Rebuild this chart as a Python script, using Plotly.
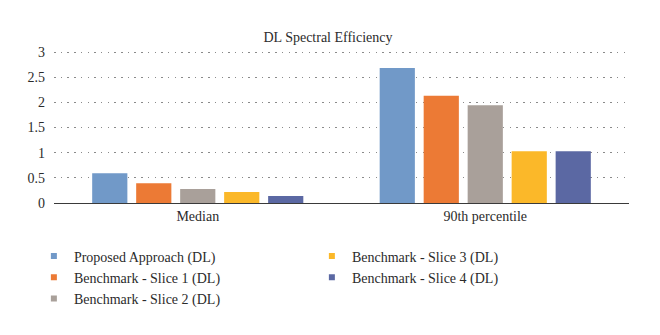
import plotly.graph_objects as go

categories = ["Median", "90th percentile"]
series_names = [
    "Proposed Approach (DL)",
    "Benchmark - Slice 1 (DL)",
    "Benchmark - Slice 2 (DL)",
    "Benchmark - Slice 3 (DL)",
    "Benchmark - Slice 4 (DL)",
]
proposed = [0.59, 2.68]
slice1 = [0.39, 2.13]
slice2 = [0.28, 1.94]
slice3 = [0.22, 1.03]
slice4 = [0.14, 1.03]
series_values = [proposed, slice1, slice2, slice3, slice4]
colors = ["#7199C8", "#EC7A35", "#A9A09A", "#FBB829", "#5B68A3"]
# legend laid out column-wise: left column first three, right column last two
legend_ranks = [1, 3, 5, 2, 4]
y_ticks = [0, 0.5, 1, 1.5, 2, 2.5, 3]
y_tick_labels = ["0", "0.5", "1", "1.5", "2", "2.5", "3"]

font_family = "Liberation Serif, DejaVu Serif, serif"
text_color = "#2b2b2b"

fig = go.Figure()
for name, vals, col in zip(series_names, series_values, colors):
    fig.add_trace(go.Bar(
        x=categories, y=vals, name=name, marker=dict(color=col, line=dict(width=0)),
        showlegend=False,
    ))
# small square legend keys
for name, col, rank in zip(series_names, colors, legend_ranks):
    fig.add_trace(go.Scatter(
        x=[None], y=[None], mode="markers", name=name,
        marker=dict(symbol="square", size=6, color=col), legendrank=rank,
    ))

fig.update_layout(
    width=660, height=335,
    margin=dict(l=54, r=31, t=50, b=132),
    paper_bgcolor="white", plot_bgcolor="white",
    barmode="group", bargap=0.235, bargroupgap=0.2,
    font=dict(family=font_family, size=13, color=text_color),
    title=dict(text="DL Spectral Efficiency", x=0.497, xanchor="center",
               y=0.89, yanchor="middle", font=dict(family=font_family, size=14, color=text_color)),
    xaxis=dict(showline=True, linecolor="#3a3a3a", linewidth=1, ticks="",
               showgrid=False, tickfont=dict(family=font_family, size=14)),
    yaxis=dict(range=[0, 3.04], tickvals=y_ticks, ticktext=y_tick_labels,
               showgrid=True, gridcolor="#8a8a8a", griddash="1.5px,5.2px", gridwidth=1,
               zeroline=False, showline=False, ticks="", ticklabelstandoff=8,
               tickfont=dict(family=font_family, size=14)),
    legend=dict(orientation="h", x=-0.035, xanchor="left", y=-0.245, yanchor="top",
                entrywidth=233, entrywidthmode="pixels", itemwidth=30,
                font=dict(family=font_family, size=14), tracegroupgap=0),
)

fig.write_html("out.html")
